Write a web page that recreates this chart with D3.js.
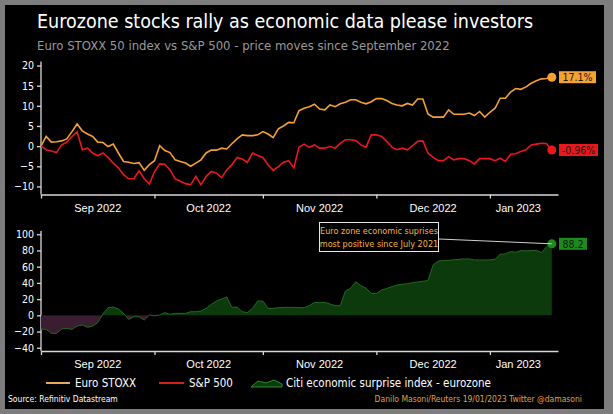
<!DOCTYPE html>
<html>
<head>
<meta charset="utf-8">
<script src="https://cdn.jsdelivr.net/npm/d3@7"></script>
<style>
  body { margin: 0; background: #fff; }
  svg { display: block; font-family: "DejaVu Sans Condensed", "DejaVu Sans", sans-serif; }
</style>
</head>
<body>
<svg id="chart" width="613" height="414"></svg>
<script>
// trading-day index 0 = first session of September 2022
const monthLabels = ["Sep 2022", "Oct 2022", "Nov 2022", "Dec 2022", "Jan 2023"];
const monthStarts = [0, 22, 43, 65, 87];

// % price move since start
const stoxx = [0.0, 2.4, 1.0, 1.1, 1.3, 1.8, 3.6, 5.5, 3.8, 3.0,
  2.4, 1.0, 0.9, -0.1, 0.5, -1.7, -3.8, -4.0, -4.3, -4.1,
  -6.0, -4.6, -3.6, 0.1, -1.1, -1.6, -3.4, -3.8, -4.2, -5.0,
  -4.2, -3.4, -1.7, -1.0, -1.0, -0.5, -0.7, 0.6, 1.8, 2.8,
  2.6, 2.6, 2.8, 3.6, 3.0, 2.1, 4.3, 5.0, 5.9, 5.8,
  8.8, 9.4, 9.8, 10.4, 9.2, 9.0, 10.2, 9.8, 10.5, 10.9,
  11.5, 11.5, 10.9, 10.5, 11.0, 11.8, 11.8, 11.3, 10.6, 10.2,
  10.0, 10.6, 10.2, 11.7, 11.7, 8.0, 7.2, 7.2, 7.2, 9.0,
  7.9, 7.9, 7.9, 8.2, 7.6, 8.6, 7.2, 8.4, 9.4, 11.9,
  11.9, 13.4, 14.3, 14.1, 14.7, 15.6, 16.2, 16.7, 16.8, 17.1];

const spx = [0.0, -0.9, -1.2, -1.6, 0.3, 1.0, 2.4, 3.6, -0.9, -0.5,
  -1.7, -2.4, -1.7, -2.8, -4.2, -5.4, -7.1, -8.1, -8.1, -6.1,
  -8.1, -9.4, -6.3, -4.4, -4.5, -5.9, -8.1, -8.7, -9.3, -9.6,
  -7.5, -9.6, -7.5, -6.3, -6.7, -7.8, -5.9, -4.6, -2.8, -3.2,
  -4.0, -1.7, -2.3, -2.8, -4.6, -6.0, -5.1, -4.0, -3.6, -5.4,
  -0.3, 0.5, -0.3, 0.3, -0.5, -0.5, -0.1, -0.5, 0.7, 1.6,
  1.6, 1.4, 0.3, -0.25, 2.8, 2.8, 2.4, 1.2, -0.25, -0.9,
  -0.5, -0.9, 0.1, 1.2, 1.3, -1.7, -2.8, -3.6, -3.6, -2.6,
  -3.4, -3.1, -3.1, -3.6, -4.4, -3.1, -3.1, -3.1, -3.6, -3.0,
  -3.8, -2.0, -1.9, -1.3, -0.9, 0.3, 0.5, 0.7, 0.6, -0.96];

// Citi economic surprise index - eurozone
const esi = [-16.9, -17.3, -22.3, -22.3, -16.9, -16.1, -17.3, -13.2, -12.0, -14.8,
  -13.2, -9.0, 1.6, 9.4, 10.2, 7.8, 2.4, -5.0, -1.7, -1.7,
  -5.8, 0.4, -0.5, 0.4, 3.3, 1.2, 2.4, 2.4, 2.4, 4.5,
  4.5, 5.3, 8.6, 13.5, 17.6, 20.1, 22.6, 9.8, 10.2, 4.5,
  3.3, 8.6, 17.6, 17.6, 8.6, 8.6, 9.4, 9.8, 9.8, 9.8,
  9.4, 9.4, 11.9, 16.0, 15.6, 16.0, 14.0, 11.9, 11.9, 30.0,
  33.3, 41.5, 36.6, 33.3, 27.1, 27.1, 31.2, 33.0, 35.4, 37.4,
  38.2, 39.0, 40.3, 41.1, 42.0, 42.8, 62.1, 67.0, 67.4, 67.9,
  68.5, 69.1, 69.5, 69.5, 68.3, 68.3, 68.3, 68.3, 69.1, 75.3,
  75.7, 78.6, 77.7, 79.8, 79.4, 79.8, 80.2, 77.3, 84.7, 88.2];

const topTicks = [-10, -5, 0, 5, 10, 15, 20];
const botTicks = [-40, -20, 0, 20, 40, 60, 80, 100];

const cOrange = "#f5a133", cRed = "#e8181c", cGreen = "#1d8a1d";
const cGreenFill = "#0c3a0c", cNegFill = "#3a1d30", cAxis = "#d8d8d8";

const svg = d3.select("#chart");

// frame
svg.append("rect").attr("width", 613).attr("height", 414).attr("fill", "#7d7d7d");
svg.append("rect").attr("x", 5).attr("y", 5).attr("width", 599).attr("height", 404).attr("fill", "#000");

svg.append("text").attr("x", 37).attr("y", 28)
  .attr("fill", "#fff").attr("font-size", 19.5)
  .style("font-family", "'DejaVu Sans Condensed', sans-serif")
  .text("Eurozone stocks rally as economic data please investors");
svg.append("text").attr("x", 37).attr("y", 50)
  .attr("fill", "#9a9a9a").attr("font-size", 13)
  .style("font-family", "'DejaVu Sans Condensed', sans-serif")
  .text("Euro STOXX 50 index vs S&P 500 - price moves since September 2022");

const x = d3.scaleLinear().domain([0, 100.2]).range([41, 558]);
const yTop = d3.scaleLinear().domain([-12, 21]).range([194.5, 61.5]);
const yBot = d3.scaleLinear().domain([-44, 104]).range([351, 231]);

function drawAxes(y, ticks, axisY) {
  const gx = svg.append("g").attr("transform", `translate(0,${axisY})`)
    .call(d3.axisBottom(x).tickValues(monthStarts).tickFormat("").tickSize(4).tickSizeOuter(0));
  gx.selectAll("path,line").attr("stroke", cAxis).attr("stroke-width", 1.3);
  gx.selectAll(".lbl").data(monthLabels).enter().append("text")
    .attr("x", (d, i) => x(i < monthStarts.length - 1 ? (monthStarts[i] + monthStarts[i + 1]) / 2 : (monthStarts[i] + stoxx.length - 1) / 2 - 0.5))
    .attr("y", 17).attr("fill", "#fff").attr("font-size", 11)
    .attr("text-anchor", "middle").text(d => d);

  const gy = svg.append("g").attr("transform", "translate(41,0)")
    .call(d3.axisLeft(y).tickValues(ticks).tickSize(4).tickSizeOuter(0));
  gy.select(".domain").attr("d", `M0,${y.range()[1]}V${axisY}`);
  gy.selectAll("path,line").attr("stroke", cAxis).attr("stroke-width", 1.3);
  gy.selectAll("text").attr("fill", "#fff").attr("font-size", 10.5)
    .style("font-family", "'DejaVu Sans Condensed', sans-serif");
}

drawAxes(yTop, topTicks, 194.5);
drawAxes(yBot, botTicks, 351);

// top chart lines
const lineTop = d3.line().x((d, i) => x(i)).y(d => yTop(d));
svg.append("path").datum(stoxx).attr("d", lineTop)
  .attr("fill", "none").attr("stroke", cOrange).attr("stroke-width", 1.6);
svg.append("path").datum(spx).attr("d", lineTop)
  .attr("fill", "none").attr("stroke", cRed).attr("stroke-width", 1.6);

const last = stoxx.length - 1;
function endLabel(val, y, col, txt, w) {
  svg.append("circle").attr("cx", x(last)).attr("cy", y(val)).attr("r", 4.5).attr("fill", col);
  svg.append("rect").attr("x", 559).attr("y", y(val) - 6).attr("width", w).attr("height", 12).attr("fill", col);
  svg.append("text").attr("x", 559 + w / 2).attr("y", y(val) + 4)
    .attr("text-anchor", "middle").attr("font-size", 10.5).attr("fill", "#1a1a1a")
    .text(txt);
}
endLabel(stoxx[last], yTop, cOrange, "17.1%", 37);
endLabel(spx[last], yTop, cRed, "-0.96%", 39);

// bottom chart area
const defs = svg.append("defs");
defs.append("clipPath").attr("id", "above").append("rect")
  .attr("x", 0).attr("y", 0).attr("width", 613).attr("height", yBot(0));
defs.append("clipPath").attr("id", "below").append("rect")
  .attr("x", 0).attr("y", yBot(0)).attr("width", 613).attr("height", 100);

const area = d3.area().x((d, i) => x(i)).y0(yBot(0)).y1(d => yBot(d));
const lineBot = d3.line().x((d, i) => x(i)).y(d => yBot(d));
svg.append("path").datum(esi).attr("d", area).attr("fill", cGreenFill).attr("clip-path", "url(#above)");
svg.append("path").datum(esi).attr("d", area).attr("fill", cNegFill).attr("clip-path", "url(#below)");
svg.append("path").datum(esi).attr("d", lineBot)
  .attr("fill", "none").attr("stroke", "#1f6b1f").attr("stroke-width", 1);

endLabel(esi[last], yBot, cGreen, "88.2", 28);

// annotation
svg.append("line").attr("x1", 439).attr("y1", 239).attr("x2", x(last)).attr("y2", yBot(esi[last]))
  .attr("stroke", "#cfcfcf").attr("stroke-width", 1);
svg.append("rect").attr("x", 319.5).attr("y", 222.5).attr("width", 119).attr("height", 29)
  .attr("fill", "#000").attr("stroke", "#e6e6e6").attr("stroke-width", 1);
svg.append("text").attr("x", 379).attr("y", 234).attr("text-anchor", "middle")
  .attr("font-size", 9).attr("fill", "#f0b440").text("Euro zone economic suprises");
svg.append("text").attr("x", 379).attr("y", 247).attr("text-anchor", "middle")
  .attr("font-size", 9).attr("fill", "#f0b440").text("most positive since July 2021");

// legend
const legend = svg.append("g").attr("font-size", 11.5).attr("fill", "#fff");
legend.append("line").attr("x1", 46).attr("x2", 70).attr("y1", 383).attr("y2", 383)
  .attr("stroke", "#e8a860").attr("stroke-width", 2);
legend.append("text").attr("x", 75).attr("y", 387).text("Euro STOXX");
legend.append("line").attr("x1", 159).attr("x2", 184).attr("y1", 383).attr("y2", 383)
  .attr("stroke", "#d02020").attr("stroke-width", 2);
legend.append("text").attr("x", 189).attr("y", 387).text("S&P 500");
legend.append("path").attr("d", "M251,387 L258,381 L266,383 L274,380 L282,384 L282,387 Z")
  .attr("fill", cGreenFill).attr("stroke", "#2a8a2a").attr("stroke-width", 1);
legend.append("text").attr("x", 286).attr("y", 387).text("Citi economic surprise index - eurozone");

svg.append("text").attr("x", 8).attr("y", 402).attr("font-size", 8.5).attr("fill", "#fff")
  .text("Source: Refinitiv Datastream");
svg.append("text").attr("x", 582).attr("y", 402).attr("text-anchor", "end")
  .attr("font-size", 8.5).attr("fill", "#e0a040")
  .text("Danilo Masoni/Reuters 19/01/2023 Twitter @damasoni");
</script>
</body>
</html>
